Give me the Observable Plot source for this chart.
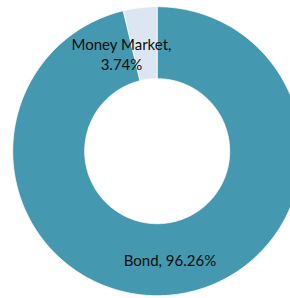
<!DOCTYPE html>
<html>
<head>
<meta charset="utf-8">
<script src="https://cdn.jsdelivr.net/npm/d3@7"></script>
<script src="https://cdn.jsdelivr.net/npm/@observablehq/plot@0.6"></script>
<style>
  html, body { margin: 0; padding: 0; background: #fff; }
  #chart { width: 290px; height: 298px; overflow: hidden; }
</style>
</head>
<body>
<div id="chart"></div>
<script>
// Data
const categories = ["Bond", "Money Market"];
const values = [96.26, 3.74];
const valueLabels = ["96.26%", "3.74%"];
const colors = ["#4499b0", "#dce6f2"];

// Geometry (pixel layout)
const W = 290, H = 298;
const cx = 156.7, cy = 150.7;
const R = 144.5, r = 72.5;

const pie = d3.pie().sort(null).value(d => d.value);
const slices = pie(categories.map((c, i) => ({category: c, value: values[i], label: valueLabels[i], color: colors[i]})));

// Build polygon outlines for each slice (in pixel units relative to centre)
const N = 360;
const polys = [];
slices.forEach((s, si) => {
  const a0 = s.startAngle, a1 = s.endAngle;
  const steps = Math.max(2, Math.ceil((a1 - a0) / (2 * Math.PI) * N));
  for (let k = 0; k <= steps; k++) {
    const a = a0 + (a1 - a0) * k / steps;
    polys.push({slice: si, x: R * Math.sin(a), y: -R * Math.cos(a)});
  }
  for (let k = steps; k >= 0; k--) {
    const a = a0 + (a1 - a0) * k / steps;
    polys.push({slice: si, x: r * Math.sin(a), y: -r * Math.cos(a)});
  }
});

// Label anchor: centroid of the ring segment
const rm = (R + r) / 2;
const labels = slices.map(s => {
  const a = (s.startAngle + s.endAngle) / 2;
  return {slice: s.index, x: rm * Math.sin(a), y: -rm * Math.cos(a), category: s.data.category, label: s.data.label};
});

const marks = [];
slices.forEach((s, si) => {
  marks.push(Plot.line(polys.filter(p => p.slice === si), {
    x: "x", y: "y", fill: s.data.color, stroke: "#ffffff", strokeWidth: 0.8,
    curve: "linear-closed"
  }));
});
// Bond label
marks.push(Plot.text(labels.filter(l => l.category === "Bond"), {
  x: "x", y: "y", text: d => `${d.category}, ${d.label}`,
  fill: "#0d0d0d", fontSize: 15, dy: 2
}));
// Money Market label (moved inward like the original)
marks.push(Plot.text(labels.filter(l => l.category === "Money Market"), {
  x: "x", y: "y", text: d => `${d.category},\n${d.label}`,
  fill: "#0d0d0d", fontSize: 15, lineHeight: 1.33, dx: -23, dy: 10
}));

const chart = Plot.plot({
  width: W, height: H,
  margin: 0,
  style: {fontFamily: "Lato, 'Open Sans', sans-serif", background: "#fff", overflow: "visible"},
  x: {type: "linear", domain: [-cx, W - cx], range: [0, W], axis: null},
  y: {type: "linear", domain: [-cy, H - cy], range: [0, H], axis: null},
  marks
});
document.getElementById("chart").appendChild(chart);
</script>
</body>
</html>
